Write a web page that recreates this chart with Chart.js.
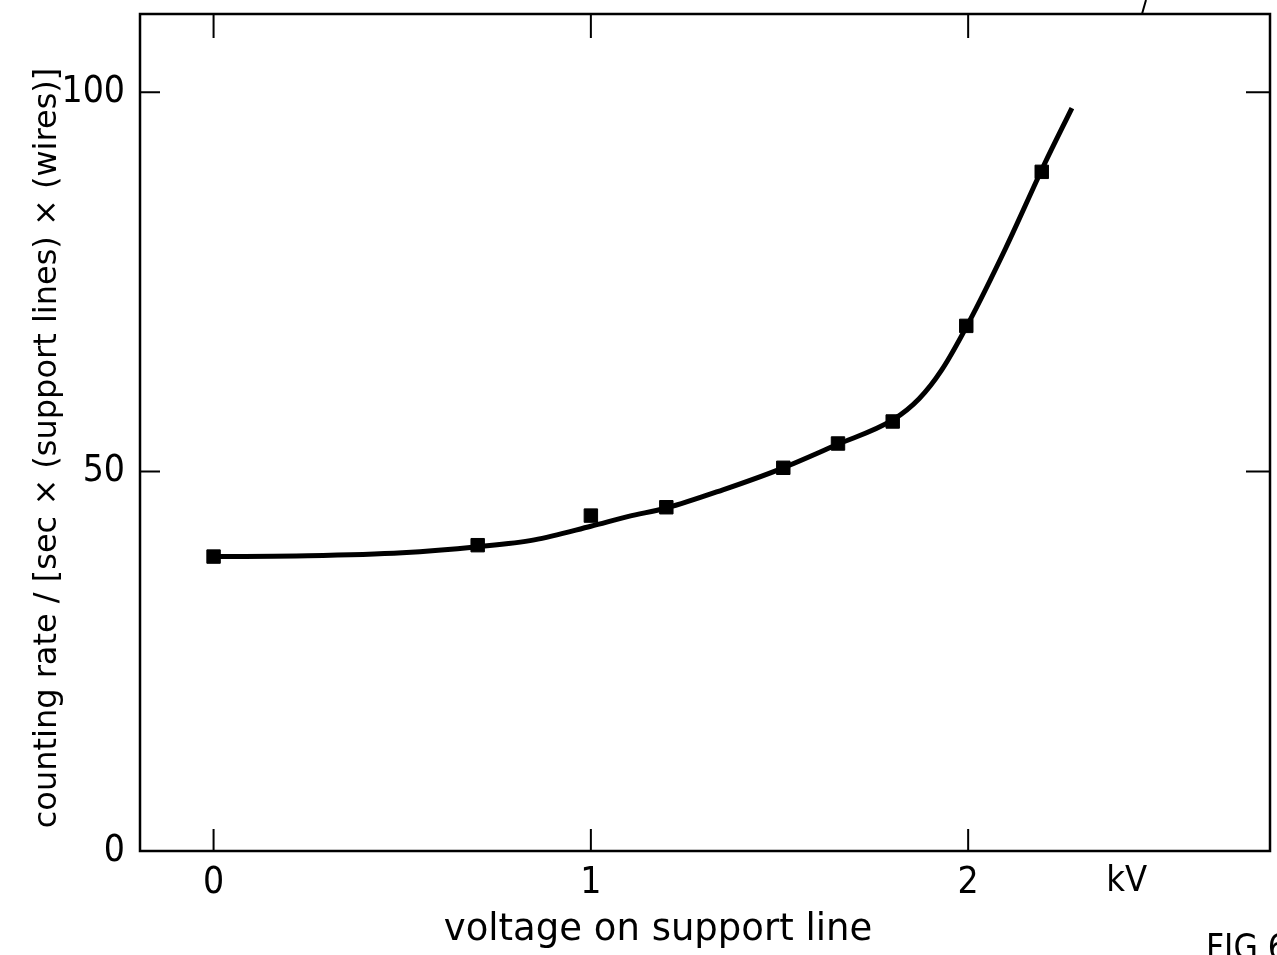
<!DOCTYPE html>
<html>
<head>
<meta charset="utf-8">
<script src="https://cdn.jsdelivr.net/npm/chart.js@4/dist/chart.umd.min.js"></script>
<style>
  html, body { margin: 0; padding: 0; background: #fff; }
  #wrap { position: relative; width: 1277px; height: 955px; }
</style>
</head>
<body>
<div id="wrap"><canvas id="chart" width="1277" height="955"></canvas></div>
<script>
// measured points (kV, counting rate)
const voltage = [0, 0.70, 1.0, 1.2, 1.51, 1.655, 1.8, 1.995, 2.195];
const rate = [38.8, 40.3, 44.2, 45.3, 50.5, 53.7, 56.6, 69.2, 89.5];

// hand drawn fit curve
const curveV = [0, 0.25, 0.5, 0.7, 0.85, 1.0, 1.1, 1.2, 1.35, 1.5, 1.65, 1.8, 1.87, 1.93, 2.0, 2.1, 2.2, 2.275];
const curveR = [38.8, 38.9, 39.3, 40.1, 41.0, 42.8, 44.1, 45.2, 47.6, 50.3, 53.5, 56.8, 59.6, 63.4, 69.5, 79.5, 90.3, 97.9];

const xTicks = [0, 1, 2];
const yTicks = [0, 50, 100];

const FONT = "'DejaVu Sans', sans-serif";
const NUMFONT = "'DejaVu Sans Condensed', 'DejaVu Sans', sans-serif";

// frame, inward tick marks and the loose texts
const framePlugin = {
  id: "frame",
  afterDraw(chart) {
    const ctx = chart.ctx;
    const a = chart.chartArea;
    const xs = chart.scales.x, ys = chart.scales.y;
    ctx.save();
    ctx.strokeStyle = "#000";
    ctx.lineWidth = 2.5;
    ctx.strokeRect(a.left, a.top, a.right - a.left, a.bottom - a.top);
    ctx.lineWidth = 2;
    ctx.beginPath();
    xTicks.forEach(function (v) {
      const px = xs.getPixelForValue(v);
      ctx.moveTo(px, a.bottom); ctx.lineTo(px, a.bottom - 22);
      ctx.moveTo(px, a.top); ctx.lineTo(px, a.top + 24);
    });
    [50, 100].forEach(function (v) {
      const py = ys.getPixelForValue(v);
      ctx.moveTo(a.left, py); ctx.lineTo(a.left + 20, py);
      ctx.moveTo(a.right, py); ctx.lineTo(a.right - 24, py);
    });
    // stray stroke from the figure above
    ctx.moveTo(1142, a.top); ctx.lineTo(1146, 0);
    ctx.stroke();

    ctx.fillStyle = "#000";
    ctx.textAlign = "center";
    ctx.textBaseline = "middle";
    ctx.font = "36px " + NUMFONT;
    ctx.fillText("kV", xs.getPixelForValue(2.42), a.bottom + 31);
    ctx.font = "37px " + FONT;
    ctx.fillText("voltage on support line", 658, 930);

    ctx.save();
    ctx.translate(48, 448);
    ctx.rotate(-Math.PI / 2);
    ctx.font = "32px " + FONT;
    ctx.fillText("counting rate / [sec × (support lines) × (wires)]", 0, 0);
    ctx.restore();

    ctx.font = "35px " + NUMFONT;
    ctx.textAlign = "left";
    ctx.textBaseline = "alphabetic";
    ctx.fillText("FIG 6", 1206, 959);
    ctx.restore();
  }
};

new Chart(document.getElementById("chart"), {
  type: "scatter",
  data: {
    datasets: [
      {
        label: "fit",
        data: curveV.map(function (v, i) { return { x: v, y: curveR[i] }; }),
        showLine: true,
        borderColor: "#000",
        borderWidth: 5,
        pointRadius: 0,
        cubicInterpolationMode: "monotone",
        order: 2
      },
      {
        label: "measured",
        data: voltage.map(function (v, i) { return { x: v, y: rate[i] }; }),
        showLine: false,
        pointStyle: "rect",
        pointRadius: 9.5,
        backgroundColor: "#000",
        borderColor: "#000",
        order: 1
      }
    ]
  },
  options: {
    responsive: false,
    animation: false,
    layout: { autoPadding: false, padding: { top: 14, right: 7, left: 0, bottom: 0 } },
    plugins: {
      legend: { display: false },
      tooltip: { enabled: false }
    },
    scales: {
      x: {
        type: "linear",
        min: -0.195,
        max: 2.8,
        afterBuildTicks: function (s) { s.ticks = xTicks.map(function (v) { return { value: v }; }); },
        afterFit: function (s) { s.height = 104; s.paddingLeft = 0; s.paddingRight = 0; },
        grid: { display: false, drawTicks: false },
        border: { display: false },
        ticks: {
          color: "#000",
          font: { family: NUMFONT, size: 37 },
          padding: 10
        }
      },
      y: {
        type: "linear",
        min: 0,
        max: 110.3,
        afterBuildTicks: function (s) { s.ticks = yTicks.map(function (v) { return { value: v }; }); },
        afterFit: function (s) { s.width = 140; s.paddingTop = 0; s.paddingBottom = 0; },
        grid: { display: false, drawTicks: false },
        border: { display: false },
        ticks: {
          color: "#000",
          font: { family: NUMFONT, size: 37 },
          padding: 15
        }
      }
    }
  },
  plugins: [framePlugin]
});
</script>
</body>
</html>
